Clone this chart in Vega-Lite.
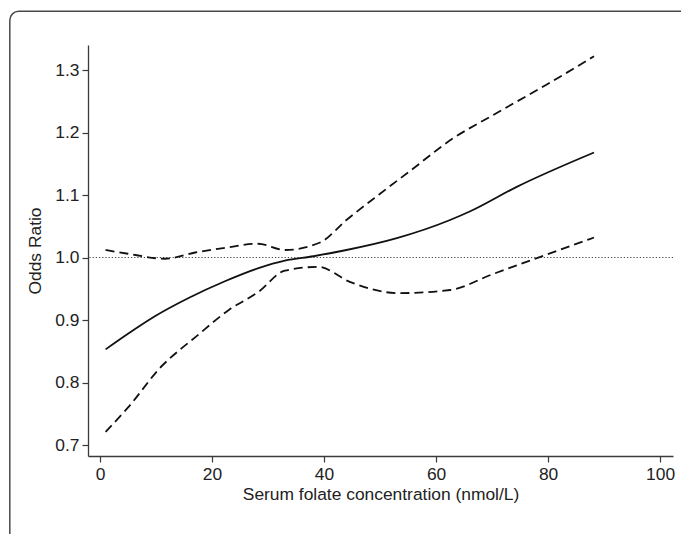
{
  "$schema": "https://vega.github.io/schema/vega-lite/v6.json",
  "width": 585,
  "height": 411,
  "autosize": {"type": "none"},
  "padding": {"left": 88, "top": 45, "right": 8, "bottom": 78},
  "background": "white",
  "config": {
    "view": {"stroke": null},
    "axis": {
      "domainColor": "#3a3a3a",
      "domainWidth": 1.3,
      "tickColor": "#3a3a3a",
      "tickWidth": 1.2,
      "tickSize": 6,
      "grid": false,
      "labelFont": "Liberation Sans",
      "labelFontSize": 17.4,
      "labelColor": "#222",
      "titleFont": "Liberation Sans",
      "titleFontSize": 17.4,
      "titleFontWeight": "normal",
      "titleColor": "#222"
    }
  },
  "datasets": {
    "curves": [
      {"x": 1, "y": 0.853, "s": "or"},
      {"x": 5, "y": 0.878, "s": "or"},
      {"x": 9.8, "y": 0.906, "s": "or"},
      {"x": 16, "y": 0.936, "s": "or"},
      {"x": 22.3, "y": 0.962, "s": "or"},
      {"x": 28.3, "y": 0.983, "s": "or"},
      {"x": 33, "y": 0.995, "s": "or"},
      {"x": 38.1, "y": 1.002, "s": "or"},
      {"x": 44, "y": 1.012, "s": "or"},
      {"x": 53, "y": 1.031, "s": "or"},
      {"x": 62.5, "y": 1.06, "s": "or"},
      {"x": 66.1, "y": 1.074, "s": "or"},
      {"x": 74.4, "y": 1.113, "s": "or"},
      {"x": 88.2, "y": 1.168, "s": "or"},
      {"x": 1, "y": 1.012, "s": "upper"},
      {"x": 5, "y": 1.006, "s": "upper"},
      {"x": 11.6, "y": 0.998, "s": "upper"},
      {"x": 17, "y": 1.008, "s": "upper"},
      {"x": 22, "y": 1.015, "s": "upper"},
      {"x": 28.2, "y": 1.022, "s": "upper"},
      {"x": 33, "y": 1.012, "s": "upper"},
      {"x": 39.3, "y": 1.024, "s": "upper"},
      {"x": 44, "y": 1.06, "s": "upper"},
      {"x": 50, "y": 1.102, "s": "upper"},
      {"x": 55, "y": 1.136, "s": "upper"},
      {"x": 63.1, "y": 1.191, "s": "upper"},
      {"x": 70, "y": 1.227, "s": "upper"},
      {"x": 80, "y": 1.278, "s": "upper"},
      {"x": 88.2, "y": 1.322, "s": "upper"},
      {"x": 1, "y": 0.721, "s": "lower"},
      {"x": 5.1, "y": 0.761, "s": "lower"},
      {"x": 11, "y": 0.826, "s": "lower"},
      {"x": 14.6, "y": 0.855, "s": "lower"},
      {"x": 16.4, "y": 0.868, "s": "lower"},
      {"x": 23, "y": 0.916, "s": "lower"},
      {"x": 28.3, "y": 0.945, "s": "lower"},
      {"x": 33, "y": 0.979, "s": "lower"},
      {"x": 39, "y": 0.985, "s": "lower"},
      {"x": 44.6, "y": 0.961, "s": "lower"},
      {"x": 53.3, "y": 0.943, "s": "lower"},
      {"x": 62.5, "y": 0.948, "s": "lower"},
      {"x": 70, "y": 0.973, "s": "lower"},
      {"x": 78, "y": 0.999, "s": "lower"},
      {"x": 88.2, "y": 1.032, "s": "lower"}
    ]
  },
  "layer": [
    {
      "data": {"values": [{"x": -16.1, "x2": 118, "y": 1.394, "y2": 0.4}]},
      "mark": {"type": "rect", "fill": null, "stroke": "#4a4a4a", "strokeWidth": 1.5, "cornerRadius": 9, "clip": false},
      "encoding": {
        "x": {"field": "x", "type": "quantitative", "title": "Serum folate concentration (nmol/L)",
              "scale": {"domain": [-2.14, 102.3], "nice": false, "zero": false},
              "axis": {"values": [0, 20, 40, 60, 80, 100], "labelPadding": 3, "titlePadding": 3}},
        "x2": {"field": "x2"},
        "y": {"field": "y", "type": "quantitative", "title": "Odds Ratio",
              "scale": {"domain": [0.6824, 1.34], "nice": false, "zero": false},
              "axis": {"values": [0.7, 0.8, 0.9, 1.0, 1.1, 1.2, 1.3], "format": ".1f", "labelPadding": 3, "titlePadding": 10}},
        "y2": {"field": "y2"}
      }
    },
    {
      "data": {"values": [{"y": 1.0}]},
      "mark": {"type": "rule", "color": "#444", "strokeWidth": 1, "strokeDash": [1.2, 2]},
      "encoding": {
        "y": {"field": "y", "type": "quantitative", "title": "Odds Ratio"}
      }
    },
    {
      "data": {"name": "curves"},
      "transform": [{"filter": "datum.s === 'or'"}],
      "mark": {"type": "line", "color": "#111", "strokeWidth": 1.8, "interpolate": "monotone"},
      "encoding": {
        "x": {"field": "x", "type": "quantitative", "title": "Serum folate concentration (nmol/L)"},
        "y": {"field": "y", "type": "quantitative", "title": "Odds Ratio"}
      }
    },
    {
      "data": {"name": "curves"},
      "transform": [{"filter": "datum.s !== 'or'"}],
      "mark": {"type": "line", "color": "#111", "strokeWidth": 1.8, "strokeDash": [9, 5], "interpolate": "monotone"},
      "encoding": {
        "x": {"field": "x", "type": "quantitative", "title": "Serum folate concentration (nmol/L)"},
        "y": {"field": "y", "type": "quantitative", "title": "Odds Ratio"},
        "detail": {"field": "s"}
      }
    }
  ]
}
